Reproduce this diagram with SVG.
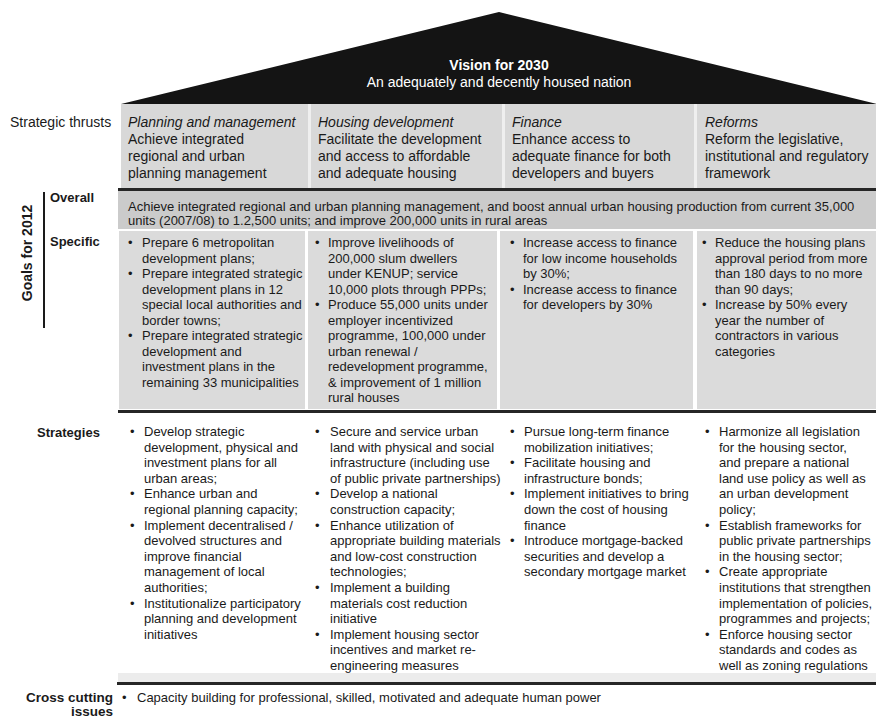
<svg xmlns="http://www.w3.org/2000/svg" width="876" height="719" viewBox="0 0 876 719">
<style>
text{font-family:"Liberation Sans",Arial,sans-serif;fill:#1a1a1a}
.t14{font-size:14px}
.it{font-style:italic}
.t13{font-size:13px}
.lbl{font-size:13px;font-weight:bold}
.vis{font-size:14px;fill:#ffffff;text-anchor:middle}
.bar{fill:#262626}
.cell{fill:#dbdbdb}
</style>
<rect width="876" height="719" fill="#ffffff"/>

<g id="roof">
<polygon points="121,104 499,12 877,104" fill="#141414"/>
<text class="vis" x="499" y="70" font-weight="bold">Vision for 2030</text>
<text class="vis" x="499" y="87">An adequately and decently housed nation</text>
</g>

<g id="thrusts">
<rect x="121" y="104" width="755" height="84" fill="#d8d8d8"/>
<rect x="308" y="104" width="3" height="84" fill="#efefef"/>
<rect x="502" y="104" width="3" height="84" fill="#efefef"/>
<rect x="694" y="104" width="3" height="84" fill="#efefef"/>
<text class="t14" x="10" y="127">Strategic thrusts</text>
<text class="t14" x="128" y="127"><tspan class="it">Planning and management</tspan><tspan x="128" y="144">Achieve integrated</tspan><tspan x="128" y="161">regional and urban</tspan><tspan x="128" y="178">planning management</tspan></text>
<text class="t14" x="318" y="127"><tspan class="it">Housing development</tspan><tspan x="318" y="144">Facilitate the development</tspan><tspan x="318" y="161">and access to affordable</tspan><tspan x="318" y="178">and adequate housing</tspan></text>
<text class="t14" x="512" y="127"><tspan class="it">Finance</tspan><tspan x="512" y="144">Enhance access to</tspan><tspan x="512" y="161">adequate finance for both</tspan><tspan x="512" y="178">developers and buyers</tspan></text>
<text class="t14" x="705" y="127"><tspan class="it">Reforms</tspan><tspan x="705" y="144">Reform the legislative,</tspan><tspan x="705" y="161">institutional and regulatory</tspan><tspan x="705" y="178">framework</tspan></text>
</g>

<g id="goals-label">
<rect x="43" y="192" width="2" height="136" fill="#1a1a1a"/>
<text class="lbl" transform="translate(32,253) rotate(-90)" text-anchor="middle" style="font-size:14px">Goals for 2012</text>
<text class="lbl" x="50" y="202">Overall</text>
<text class="lbl" x="50" y="246">Specific</text>
</g>

<g id="overall">
<rect class="bar" x="118" y="188" width="758" height="3"/>
<rect x="118" y="191" width="758" height="38" fill="#cbcbcb"/>
<text class="t13" x="128" y="211">Achieve integrated regional and urban planning management, and boost annual urban housing production from current 35,000</text>
<text class="t13" x="128" y="225">units (2007/08) to 1.2,500 units; and improve 200,000 units in rural areas</text>
</g>

<g id="specific">
<rect class="cell" x="119" y="231" width="186" height="178"/>
<rect class="cell" x="308" y="231" width="189" height="178"/>
<rect class="cell" x="500" y="231" width="193" height="178"/>
<rect class="cell" x="697" y="231" width="179" height="178"/>
<text class="t13" x="128" y="247">•</text>
<text class="t13" x="128" y="278">•</text>
<text class="t13" x="128" y="340">•</text>
<text class="t13" x="142" y="247">Prepare 6 metropolitan<tspan x="142" dy="15.5">development plans;</tspan><tspan x="142" dy="15.5">Prepare integrated strategic</tspan><tspan x="142" dy="15.5">development plans in 12</tspan><tspan x="142" dy="15.5">special local authorities and</tspan><tspan x="142" dy="15.5">border towns;</tspan><tspan x="142" dy="15.5">Prepare integrated strategic</tspan><tspan x="142" dy="15.5">development and</tspan><tspan x="142" dy="15.5">investment plans in the</tspan><tspan x="142" dy="15.5">remaining 33 municipalities</tspan></text>

<text class="t13" x="315" y="247">•</text>
<text class="t13" x="315" y="309">•</text>
<text class="t13" x="328" y="247">Improve livelihoods of<tspan x="328" dy="15.5">200,000 slum dwellers</tspan><tspan x="328" dy="15.5">under KENUP; service</tspan><tspan x="328" dy="15.5">10,000 plots through PPPs;</tspan><tspan x="328" dy="15.5">Produce 55,000 units under</tspan><tspan x="328" dy="15.5">employer incentivized</tspan><tspan x="328" dy="15.5">programme, 100,000 under</tspan><tspan x="328" dy="15.5">urban renewal /</tspan><tspan x="328" dy="15.5">redevelopment programme,</tspan><tspan x="328" dy="15.5">&amp; improvement of 1 million</tspan><tspan x="328" dy="15.5">rural houses</tspan></text>

<text class="t13" x="510" y="247">•</text>
<text class="t13" x="510" y="293.5">•</text>
<text class="t13" x="523" y="247">Increase access to finance<tspan x="523" dy="15.5">for low income households</tspan><tspan x="523" dy="15.5">by 30%;</tspan><tspan x="523" dy="15.5">Increase access to finance</tspan><tspan x="523" dy="15.5">for developers by 30%</tspan></text>

<text class="t13" x="702" y="247">•</text>
<text class="t13" x="702" y="309">•</text>
<text class="t13" x="715" y="247">Reduce the housing plans<tspan x="715" dy="15.5">approval period from more</tspan><tspan x="715" dy="15.5">than 180 days to no more</tspan><tspan x="715" dy="15.5">than 90 days;</tspan><tspan x="715" dy="15.5">Increase by 50% every</tspan><tspan x="715" dy="15.5">year the number of</tspan><tspan x="715" dy="15.5">contractors in various</tspan><tspan x="715" dy="15.5">categories</tspan></text>
</g>

<g id="strategies">
<rect class="bar" x="118" y="410" width="758" height="3"/>
<text class="lbl" x="37" y="437">Strategies</text>
<text class="t13" x="130" y="436">•</text>
<text class="t13" x="130" y="498.4">•</text>
<text class="t13" x="130" y="529.6">•</text>
<text class="t13" x="130" y="607.6">•</text>
<text class="t13" x="144" y="436">Develop strategic<tspan x="144" dy="15.6">development, physical and</tspan><tspan x="144" dy="15.6">investment plans for all</tspan><tspan x="144" dy="15.6">urban areas;</tspan><tspan x="144" dy="15.6">Enhance urban and</tspan><tspan x="144" dy="15.6">regional planning capacity;</tspan><tspan x="144" dy="15.6">Implement decentralised /</tspan><tspan x="144" dy="15.6">devolved structures and</tspan><tspan x="144" dy="15.6">improve financial</tspan><tspan x="144" dy="15.6">management of local</tspan><tspan x="144" dy="15.6">authorities;</tspan><tspan x="144" dy="15.6">Institutionalize participatory</tspan><tspan x="144" dy="15.6">planning and development</tspan><tspan x="144" dy="15.6">initiatives</tspan></text>

<text class="t13" x="315" y="436">•</text>
<text class="t13" x="315" y="498.4">•</text>
<text class="t13" x="315" y="529.6">•</text>
<text class="t13" x="315" y="592">•</text>
<text class="t13" x="315" y="638.8">•</text>
<text class="t13" x="330" y="436">Secure and service urban<tspan x="330" dy="15.6">land with physical and social</tspan><tspan x="330" dy="15.6">infrastructure (including use</tspan><tspan x="330" dy="15.6">of public private partnerships)</tspan><tspan x="330" dy="15.6">Develop a national</tspan><tspan x="330" dy="15.6">construction capacity;</tspan><tspan x="330" dy="15.6">Enhance utilization of</tspan><tspan x="330" dy="15.6">appropriate building materials</tspan><tspan x="330" dy="15.6">and low-cost construction</tspan><tspan x="330" dy="15.6">technologies;</tspan><tspan x="330" dy="15.6">Implement a building</tspan><tspan x="330" dy="15.6">materials cost reduction</tspan><tspan x="330" dy="15.6">initiative</tspan><tspan x="330" dy="15.6">Implement housing sector</tspan><tspan x="330" dy="15.6">incentives and market re-</tspan><tspan x="330" dy="15.6">engineering measures</tspan></text>

<text class="t13" x="510" y="436">•</text>
<text class="t13" x="510" y="467.2">•</text>
<text class="t13" x="510" y="498.4">•</text>
<text class="t13" x="510" y="545.2">•</text>
<text class="t13" x="524" y="436">Pursue long-term finance<tspan x="524" dy="15.6">mobilization initiatives;</tspan><tspan x="524" dy="15.6">Facilitate housing and</tspan><tspan x="524" dy="15.6">infrastructure bonds;</tspan><tspan x="524" dy="15.6">Implement initiatives to bring</tspan><tspan x="524" dy="15.6">down the cost of housing</tspan><tspan x="524" dy="15.6">finance</tspan><tspan x="524" dy="15.6">Introduce mortgage-backed</tspan><tspan x="524" dy="15.6">securities and develop a</tspan><tspan x="524" dy="15.6">secondary mortgage market</tspan></text>

<text class="t13" x="705" y="436">•</text>
<text class="t13" x="705" y="529.6">•</text>
<text class="t13" x="705" y="576.4">•</text>
<text class="t13" x="705" y="638.8">•</text>
<text class="t13" x="719" y="436">Harmonize all legislation<tspan x="719" dy="15.6">for the housing sector,</tspan><tspan x="719" dy="15.6">and prepare a national</tspan><tspan x="719" dy="15.6">land use policy as well as</tspan><tspan x="719" dy="15.6">an urban development</tspan><tspan x="719" dy="15.6">policy;</tspan><tspan x="719" dy="15.6">Establish frameworks for</tspan><tspan x="719" dy="15.6">public private partnerships</tspan><tspan x="719" dy="15.6">in the housing sector;</tspan><tspan x="719" dy="15.6">Create appropriate</tspan><tspan x="719" dy="15.6">institutions that strengthen</tspan><tspan x="719" dy="15.6">implementation of policies,</tspan><tspan x="719" dy="15.6">programmes and projects;</tspan><tspan x="719" dy="15.6">Enforce housing sector</tspan><tspan x="719" dy="15.6">standards and codes as</tspan><tspan x="719" dy="15.6">well as zoning regulations</tspan></text>
</g>

<g id="cross-cutting">
<rect x="118" y="673" width="758" height="9" fill="#ececec"/>
<rect class="bar" x="117" y="682" width="759" height="3"/>
<text class="lbl" x="113" y="702" text-anchor="end" style="font-size:13.5px">Cross cutting</text>
<text class="lbl" x="113" y="716" text-anchor="end" style="font-size:13.5px">issues</text>
<text class="t13" x="122" y="702">•</text>
<text class="t13" x="137" y="702">Capacity building for professional, skilled, motivated and adequate human power</text>
</g>
</svg>
